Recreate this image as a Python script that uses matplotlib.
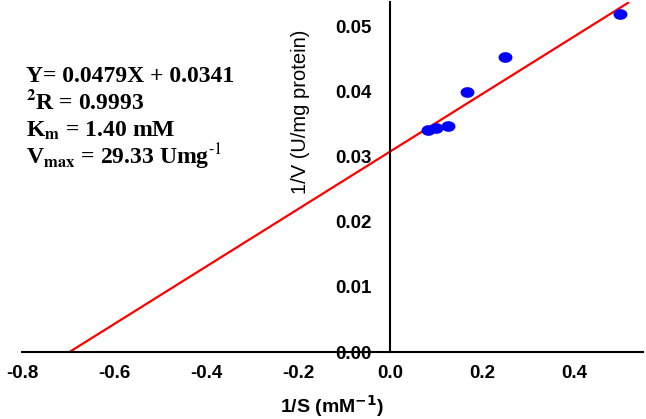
import numpy as np
import matplotlib
matplotlib.use("Agg")
import matplotlib.pyplot as plt

# ---- data ----
inv_s = [0.083, 0.101, 0.127, 0.167, 0.251, 0.500]
inv_v = [0.03415, 0.0344, 0.0348, 0.0400, 0.0453, 0.0520]
fit_slope = 0.0442
fit_intercept = 0.0308
fit_x_range = [-0.697, 0.52]
x_ticks = [-0.8, -0.6, -0.4, -0.2, 0.0, 0.2, 0.4]
y_ticks = [0.00, 0.01, 0.02, 0.03, 0.04, 0.05]
annot_lines = [
    "Y= 0.0479X + 0.0341",
    r"${}^{\mathbf{2}}$R = 0.9993",
    r"K$_{\mathbf{m}}$ = 1.40 mM",
    r"V$_{\mathbf{max}}$ = 29.33 Umg$^{\text{-1}}$",
]

W, H = 646, 419
fig = plt.figure(figsize=(W / 100, H / 100), dpi=100)
ax = fig.add_axes([22 / W, (H - 352) / H, (643 - 22) / W, (352 - 2) / H])
ax.set_xlim(-0.8, 0.55)
ax.set_ylim(0, 0.0538)

# fit line
lx = np.array(fit_x_range)
ax.plot(lx, fit_intercept + fit_slope * lx, color="#ff0000", lw=1.6, zorder=2,
        solid_capstyle="butt")

# elliptical markers
t = np.linspace(0, 2 * np.pi, 60)
ell = np.column_stack([1.3 * np.cos(t), np.sin(t)])
ax.plot(inv_s, inv_v, linestyle="none", marker=ell, markersize=10,
        color="#0000ff", markeredgewidth=0, zorder=3)

# spines through origin
for s in ["top", "right"]:
    ax.spines[s].set_visible(False)
ax.spines["left"].set_position(("data", 0))
ax.spines["bottom"].set_position(("data", 0))
ax.spines["left"].set_linewidth(1.5)
ax.spines["bottom"].set_linewidth(1.5)
ax.patch.set_visible(False)

tick_font = dict(family="Liberation Sans", weight="bold", size=13.5)
ax.set_xticks(x_ticks)
ax.set_xticklabels([f"{v:.1f}" for v in x_ticks], fontdict=tick_font)
ax.set_yticks(y_ticks)
ax.set_yticklabels([f"{v:.2f}" for v in y_ticks], fontdict=tick_font)
ax.tick_params(axis="x", length=0, pad=9)
ax.tick_params(axis="y", length=0, pad=13)

# axis labels
fig.text(332 / W, 1 - 413 / H, r"1/S (mM$^{\mathbf{-1}}$)", ha="center",
         va="baseline", family="Liberation Sans", weight="bold", size=14,
         math_fontfamily="dejavusans")
fig.text(300 / W, 1 - 112 / H, "1/V (U/mg protein)", rotation=90,
         ha="center", va="center", family="Liberation Sans", size=14.5)

# annotation
baselines = [82, 109, 137, 164]
for line, b in zip(annot_lines, baselines):
    fig.text(26 / W, 1 - b / H, line, ha="left", va="baseline",
             family="Liberation Serif", weight="bold", size=17,
             math_fontfamily="stix")

fig.savefig("out.png", dpi=100)
